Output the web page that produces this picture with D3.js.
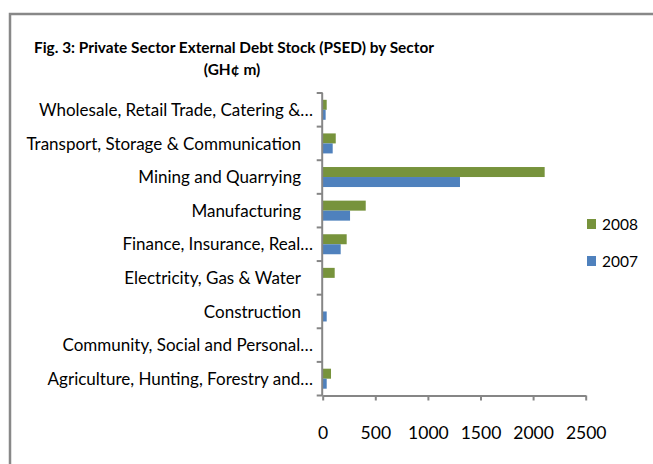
<html>
<script src="https://d3js.org/d3.v7.min.js"></script>
<style>
    body { margin: 0; background: #fff; }
    text { font-family: Lato, "Open Sans", sans-serif; fill: #000; }
    .axis path, .axis line { stroke: #868686; stroke-width: 2; fill: none; }
</style>
<body>
<svg id="chart" width="653" height="464"></svg>
<script>
// data (GH¢ m)
var sectors = [
    "Wholesale, Retail Trade, Catering &\u2026",
    "Transport, Storage & Communication",
    "Mining and Quarrying",
    "Manufacturing",
    "Finance, Insurance, Real\u2026",
    "Electricity, Gas & Water",
    "Construction",
    "Community, Social and Personal\u2026",
    "Agriculture, Hunting, Forestry and\u2026"
];
var series = ["2008", "2007"];
var values2008 = [38, 124, 2110, 409, 228, 114, 0, 0, 79];
var values2007 = [28, 95, 1305, 260, 171, 0, 38, 0, 38];
var xTicks = [0, 500, 1000, 1500, 2000, 2500];

var colors = { "2008": "#77933C", "2007": "#4F81BD" };

var svg = d3.select("#chart");

// outer frame
svg.append("rect")
    .attr("x", 10).attr("y", 14)
    .attr("width", 700).attr("height", 500)
    .attr("fill", "none")
    .attr("stroke", "#888")
    .attr("stroke-width", 2.5);

// title
svg.append("text")
    .attr("x", 234).attr("y", 53)
    .style("text-anchor", "middle")
    .style("font-size", "15.4px")
    .style("font-weight", "bold")
    .text("Fig. 3: Private Sector External Debt Stock (PSED) by Sector");
svg.append("text")
    .attr("x", 232).attr("y", 75)
    .style("text-anchor", "middle")
    .style("font-size", "15.4px")
    .style("font-weight", "bold")
    .text("(GH\u00a2 m)");

var x = d3.scaleLinear().domain([0, 2500]).range([322.7, 585.7]);
var y = d3.scaleBand().domain(sectors).range([93, 395.5]).padding(0);
var y1 = d3.scaleBand().domain(series).range([0, y.bandwidth()])
    .paddingInner(0).paddingOuter(0.68);

// bars
var rows = sectors.map(function(s, i) {
    return { sector: s, vals: [
        { key: "2008", v: values2008[i] },
        { key: "2007", v: values2007[i] }
    ] };
});

var g = svg.selectAll("g.row").data(rows).enter().append("g")
    .attr("class", "row")
    .attr("transform", function(d) { return "translate(0," + y(d.sector) + ")"; });

g.selectAll("rect").data(function(d) { return d.vals; }).enter().append("rect")
    .attr("x", x(0))
    .attr("y", function(d) { return y1(d.key); })
    .attr("width", function(d) { return x(d.v) - x(0); })
    .attr("height", y1.bandwidth())
    .attr("fill", function(d) { return colors[d.key]; });

// x axis
svg.append("g")
    .attr("class", "axis")
    .attr("transform", "translate(0," + 395.5 + ")")
    .call(d3.axisBottom(x).tickValues(xTicks).tickFormat(d3.format("d"))
        .tickSize(5).tickSizeOuter(0).tickPadding(26))
    .call(function(a) {
        a.selectAll("text").style("font-size", "17.5px").attr("dy", "0.71em")
            .style("font-family", "Lato, 'Open Sans', sans-serif").attr("fill", "#000");
    });

// y axis line and ticks on category boundaries
var yAxis = svg.append("g").attr("class", "axis");
yAxis.append("line")
    .attr("x1", x(0) - 0.5).attr("x2", x(0) - 0.5)
    .attr("y1", y.range()[0]).attr("y2", y.range()[1]);
yAxis.selectAll("line.tick").data(sectors.concat([null])).enter().append("line")
    .attr("class", "tick")
    .attr("x1", x(0) - 6).attr("x2", x(0))
    .attr("y1", function(d) { return d === null ? y.range()[1] : y(d); })
    .attr("y2", function(d) { return d === null ? y.range()[1] : y(d); });

// category labels
svg.selectAll("text.cat").data(sectors).enter().append("text")
    .attr("class", "cat")
    .attr("x", function(d) { return d.slice(-1) === "\u2026" ? 313 : 301; })
    .attr("y", function(d) { return y(d) + y.bandwidth() / 2; })
    .attr("dy", "0.36em")
    .style("text-anchor", "end")
    .style("font-size", "17px")
    .text(function(d) { return d; });

// legend
var legend = svg.selectAll("g.legend").data(series).enter().append("g")
    .attr("class", "legend")
    .attr("transform", function(d, i) { return "translate(587," + (219 + i * 37) + ")"; });
legend.append("rect")
    .attr("width", 9).attr("height", 10)
    .attr("fill", function(d) { return colors[d]; });
legend.append("text")
    .attr("x", 15).attr("y", 5)
    .attr("dy", "0.36em")
    .style("font-size", "15.5px")
    .text(function(d) { return d; });
</script>
</body>
</html>
